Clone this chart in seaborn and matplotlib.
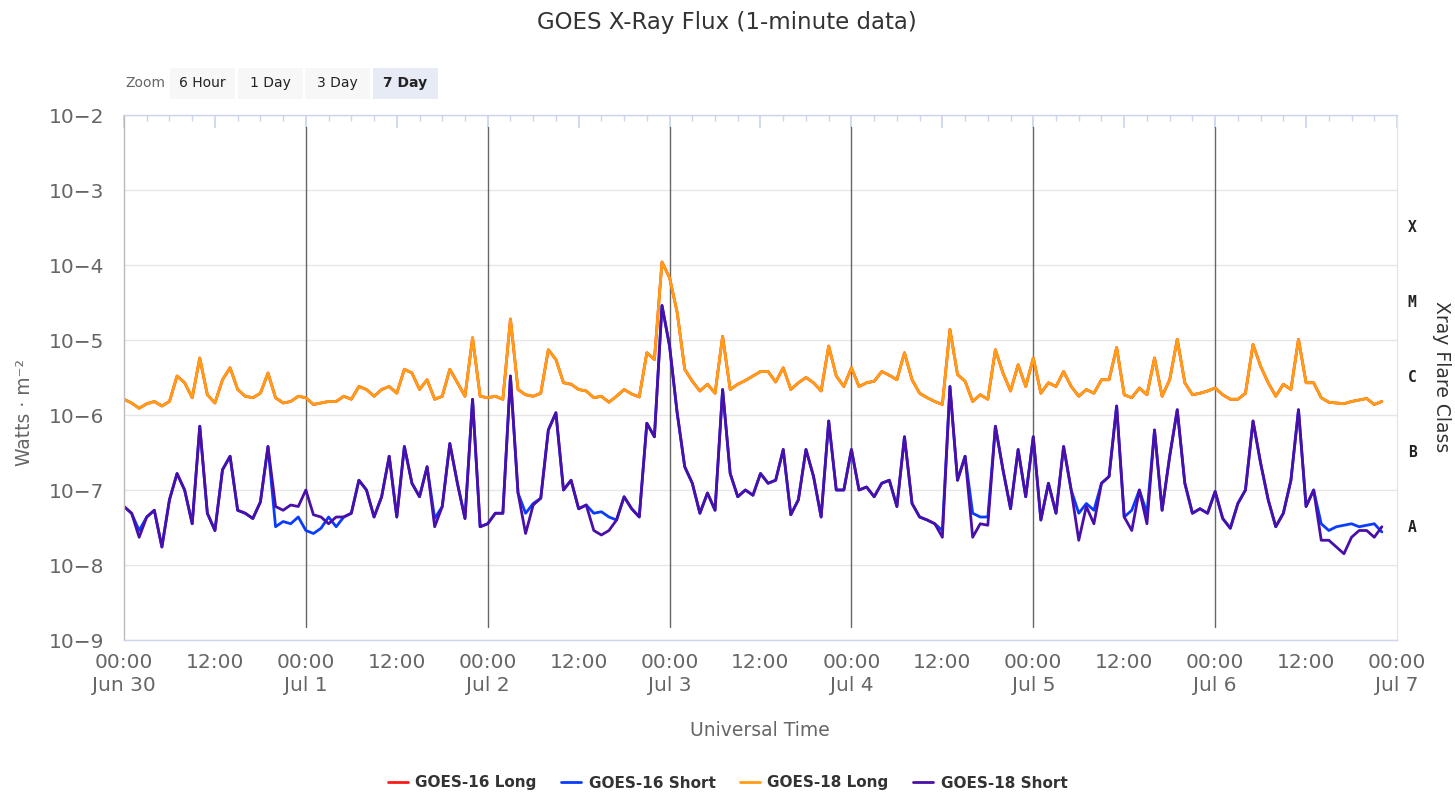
import numpy as np
import pandas as pd
import matplotlib
matplotlib.use("Agg")
import matplotlib.pyplot as plt
import seaborn as sns
from matplotlib.lines import Line2D
from matplotlib.patches import Rectangle
from matplotlib.ticker import FixedLocator, LogLocator, NullFormatter
import matplotlib.transforms as mtransforms

# hours since Jun 30 00:00 UT, one reading per hour
hours = np.arange(167)

# log10 of flux (W/m^2)
g18_long_log = [
    -5.79, -5.84, -5.91, -5.85, -5.82, -5.88, -5.82, -5.48, -5.57, -5.77, -5.24, -5.73,
    -5.84, -5.53, -5.37, -5.66, -5.75, -5.77, -5.71, -5.44, -5.77, -5.84, -5.82, -5.75,
    -5.77, -5.86, -5.84, -5.82, -5.82, -5.75, -5.79, -5.62, -5.66, -5.75, -5.66, -5.62,
    -5.71, -5.39, -5.44, -5.66, -5.53, -5.79, -5.75, -5.39, -5.57, -5.75, -4.97, -5.75,
    -5.77, -5.75, -5.79, -4.72, -5.66, -5.73, -5.75, -5.71, -5.13, -5.26, -5.57, -5.59,
    -5.66, -5.68, -5.77, -5.75, -5.83, -5.75, -5.66, -5.72, -5.76, -5.17, -5.26, -3.96,
    -4.17, -4.63, -5.39, -5.55, -5.68, -5.59, -5.71, -4.95, -5.66, -5.59, -5.54, -5.48,
    -5.42, -5.42, -5.56, -5.37, -5.66, -5.57, -5.50, -5.57, -5.68, -5.08, -5.48, -5.62,
    -5.37, -5.62, -5.57, -5.55, -5.42, -5.47, -5.53, -5.17, -5.53, -5.71, -5.77, -5.82,
    -5.86, -4.86, -5.46, -5.55, -5.82, -5.73, -5.79, -5.13, -5.44, -5.68, -5.33, -5.62,
    -5.24, -5.71, -5.57, -5.62, -5.42, -5.62, -5.75, -5.66, -5.71, -5.53, -5.53, -5.10,
    -5.73, -5.77, -5.64, -5.73, -5.24, -5.75, -5.53, -4.99, -5.57, -5.73, -5.71, -5.68,
    -5.64, -5.73, -5.79, -5.79, -5.71, -5.06, -5.35, -5.57, -5.75, -5.59, -5.66, -4.99,
    -5.57, -5.57, -5.77, -5.83, -5.84, -5.85, -5.82, -5.80, -5.78, -5.86, -5.82,
]

g18_short_log = [
    -7.22, -7.31, -7.63, -7.36, -7.27, -7.76, -7.13, -6.78, -7.00, -7.45, -6.15, -7.31,
    -7.54, -6.73, -6.55, -7.27, -7.31, -7.38, -7.16, -6.42, -7.22, -7.27, -7.20, -7.22,
    -7.00, -7.33, -7.36, -7.45, -7.36, -7.36, -7.31, -6.87, -7.00, -7.36, -7.09, -6.55,
    -7.36, -6.42, -6.91, -7.09, -6.69, -7.49, -7.22, -6.38, -6.91, -7.38, -5.79, -7.49,
    -7.45, -7.31, -7.31, -5.48, -7.04, -7.58, -7.20, -7.11, -6.20, -5.97, -7.00, -6.87,
    -7.25, -7.20, -7.54, -7.60, -7.54, -7.40, -7.09, -7.25, -7.36, -6.11, -6.29, -4.54,
    -5.08, -5.97, -6.69, -6.91, -7.31, -7.04, -7.27, -5.66, -6.78, -7.09, -7.00, -7.07,
    -6.78, -6.91, -6.87, -6.46, -7.33, -7.13, -6.46, -6.82, -7.36, -6.08, -7.00, -7.00,
    -6.46, -7.00, -6.96, -7.09, -6.91, -6.87, -7.22, -6.29, -7.18, -7.36, -7.40, -7.45,
    -7.63, -5.62, -6.87, -6.55, -7.63, -7.45, -7.47, -6.15, -6.73, -7.25, -6.46, -7.09,
    -6.29, -7.40, -6.91, -7.31, -6.42, -7.00, -7.67, -7.22, -7.45, -6.91, -6.82, -5.88,
    -7.36, -7.54, -7.00, -7.45, -6.20, -7.27, -6.55, -5.93, -6.91, -7.31, -7.25, -7.31,
    -7.02, -7.38, -7.51, -7.18, -7.00, -6.08, -6.64, -7.13, -7.49, -7.31, -6.87, -5.93,
    -7.22, -7.00, -7.67, -7.67, -7.76, -7.85, -7.63, -7.54, -7.54, -7.63, -7.49,
]

g16_short_log = [
    -7.22, -7.31, -7.54, -7.36, -7.27, -7.76, -7.13, -6.78, -7.00, -7.45, -6.15, -7.31,
    -7.54, -6.73, -6.55, -7.27, -7.31, -7.38, -7.16, -6.42, -7.49, -7.42, -7.45, -7.36,
    -7.54, -7.58, -7.51, -7.36, -7.49, -7.36, -7.31, -6.87, -7.00, -7.36, -7.09, -6.55,
    -7.36, -6.42, -6.91, -7.09, -6.69, -7.38, -7.22, -6.38, -6.91, -7.38, -5.79, -7.49,
    -7.45, -7.31, -7.31, -5.48, -7.04, -7.31, -7.18, -7.11, -6.20, -5.97, -7.00, -6.87,
    -7.25, -7.20, -7.31, -7.29, -7.36, -7.40, -7.09, -7.25, -7.36, -6.11, -6.29, -4.54,
    -5.08, -5.97, -6.69, -6.91, -7.31, -7.04, -7.27, -5.66, -6.78, -7.09, -7.00, -7.07,
    -6.78, -6.91, -6.87, -6.46, -7.33, -7.13, -6.46, -6.82, -7.36, -6.08, -7.00, -7.00,
    -6.46, -7.00, -6.96, -7.09, -6.91, -6.87, -7.22, -6.29, -7.18, -7.36, -7.40, -7.45,
    -7.54, -5.62, -6.87, -6.55, -7.31, -7.36, -7.36, -6.15, -6.73, -7.25, -6.46, -7.09,
    -6.29, -7.40, -6.91, -7.31, -6.42, -7.00, -7.31, -7.18, -7.27, -6.91, -6.82, -5.88,
    -7.36, -7.27, -7.00, -7.31, -6.20, -7.27, -6.55, -5.93, -6.91, -7.31, -7.25, -7.31,
    -7.02, -7.38, -7.51, -7.18, -7.00, -6.08, -6.64, -7.13, -7.49, -7.31, -6.87, -5.93,
    -7.22, -7.00, -7.45, -7.54, -7.49, -7.47, -7.45, -7.49, -7.47, -7.45, -7.56,
]

# GOES-16 long sits right under GOES-18 long
g16_long_log = g18_long_log

series_names = ["GOES-16 Long", "GOES-16 Short", "GOES-18 Long", "GOES-18 Short"]
series_colors = ["#ff1a1a", "#0a3cff", "#ff9d14", "#4a0fa8"]

x_tick_hours = list(range(0, 169, 12))
x_tick_labels = ["00:00\nJun 30", "12:00", "00:00\nJul 1", "12:00", "00:00\nJul 2", "12:00",
                 "00:00\nJul 3", "12:00", "00:00\nJul 4", "12:00", "00:00\nJul 5", "12:00",
                 "00:00\nJul 6", "12:00", "00:00\nJul 7"]
day_lines = [24, 48, 72, 96, 120, 144]
y_decades = [-9, -8, -7, -6, -5, -4, -3, -2]
y_tick_labels = ["10\u22129", "10\u22128", "10\u22127", "10\u22126",
                 "10\u22125", "10\u22124", "10\u22123", "10\u22122"]
flare_classes = ["A", "B", "C", "M", "X"]
flare_class_pos = [-7.5, -6.5, -5.5, -4.5, -3.5]
zoom_buttons = ["6 Hour", "1 Day", "3 Day", "7 Day"]

sns.set_theme(style="white")
plt.rcParams["font.family"] = ["DejaVu Sans"]

W, H = 1455, 793
fig = plt.figure(figsize=(W / 100, H / 100), dpi=100)
ax = fig.add_axes([124 / W, 1 - 640 / H, (1397 - 124) / W, 525 / H])

frames = []
for name, vals in zip(series_names, [g16_long_log, g16_short_log, g18_long_log, g18_short_log]):
    frames.append(pd.DataFrame({"hour": hours, "flux": 10 ** np.array(vals), "series": name}))
df = pd.concat(frames, ignore_index=True)

sns.lineplot(data=df, x="hour", y="flux", hue="series", hue_order=series_names,
             palette=series_colors, linewidth=2.0, estimator=None, sort=False,
             legend=False, ax=ax)

ax.set_yscale("log")
ax.set_ylim(1e-9, 1e-2)
ax.set_xlim(0, 168)

# decade grid lines and daily marker lines
for d in y_decades:
    ax.axhline(10.0 ** d, color="#e6e6e6", lw=1, zorder=0)
for h in day_lines:
    ax.axvline(h, ymin=0.025, ymax=0.977, color="#666666", lw=1, zorder=1)

ax.set_yticks([10.0 ** d for d in y_decades])
ax.set_yticklabels(y_tick_labels)
ax.yaxis.set_minor_locator(LogLocator(base=10, subs=np.arange(2, 10)))
ax.yaxis.set_minor_formatter(NullFormatter())
ax.tick_params(axis="y", which="major", direction="in", length=6, width=1.2,
               color="#666666", labelsize=14.5, labelcolor="#666666", pad=14)
ax.tick_params(axis="y", which="minor", direction="in", length=4, color="#aaaaaa")

ax.xaxis.set_major_locator(FixedLocator(x_tick_hours))
ax.set_xticklabels(x_tick_labels, linespacing=1.3)
ax.xaxis.set_minor_locator(FixedLocator(list(range(0, 169, 3))))
ax.tick_params(axis="x", which="major", direction="in", length=9, color="#ccd6eb",
               top=True, labelsize=14.5, labelcolor="#666666", pad=9)
ax.tick_params(axis="x", which="minor", direction="in", length=4, color="#ccd6eb", top=True)
ax.set_xlabel("")
ax.set_ylabel("")

ax.spines["top"].set_color("#ccd6eb")
ax.spines["bottom"].set_color("#ccd6eb")
ax.spines["left"].set_color("#bbbbbb")
ax.spines["right"].set_color("#e6e6e6")
for s in ax.spines.values():
    s.set_linewidth(1)

# flare class letters on the right
trans = mtransforms.blended_transform_factory(ax.transAxes, ax.transData)
for lab, pos in zip(flare_classes, flare_class_pos):
    ax.text(1.0118, 10.0 ** pos, lab, transform=trans, ha="center", va="center",
            fontsize=10.5, fontweight="bold", family="DejaVu Sans Mono", color="#222222")

fig.text(727 / W, 1 - 22 / H, "GOES X-Ray Flux (1-minute data)", ha="center", va="center",
         fontsize=16.5, color="#333333")
fig.text(25 / W, 1 - 412 / H, "Watts \u00b7 m\u207b\u00b2", rotation=90, ha="center",
         va="center", fontsize=13.5, color="#666666")
fig.text(1441 / W, 1 - 377 / H, "Xray Flare Class", rotation=-90, ha="center",
         va="center", fontsize=13.5, color="#333333")
fig.text(760 / W, 1 - 731 / H, "Universal Time", ha="center", va="center",
         fontsize=13.5, color="#666666")

# zoom buttons
fig.text(145 / W, 1 - 83 / H, "Zoom", ha="center", va="center", fontsize=10, color="#666666")
btn_x = [170, 238, 305, 373]
for i, (bx, lab) in enumerate(zip(btn_x, zoom_buttons)):
    active = i == len(zoom_buttons) - 1
    fig.add_artist(Rectangle((bx / W, 1 - 99 / H), 65 / W, 31 / H, transform=fig.transFigure,
                             facecolor="#e6ebf5" if active else "#f7f7f7", edgecolor="none"))
    fig.text((bx + 32.5) / W, 1 - 83 / H, lab, ha="center", va="center", fontsize=10,
             color="#222222", fontweight="bold" if active else "normal")

handles = [Line2D([0], [0], color=c, lw=2) for c in series_colors]
fig.legend(handles, series_names, loc="center", bbox_to_anchor=(0.5, 1 - 783 / H), ncol=4,
           frameon=False, handlelength=1.3, handletextpad=0.5, columnspacing=1.6,
           prop={"weight": "bold", "size": 11}, labelcolor="#333333")

fig.savefig("out.png", dpi=100)
